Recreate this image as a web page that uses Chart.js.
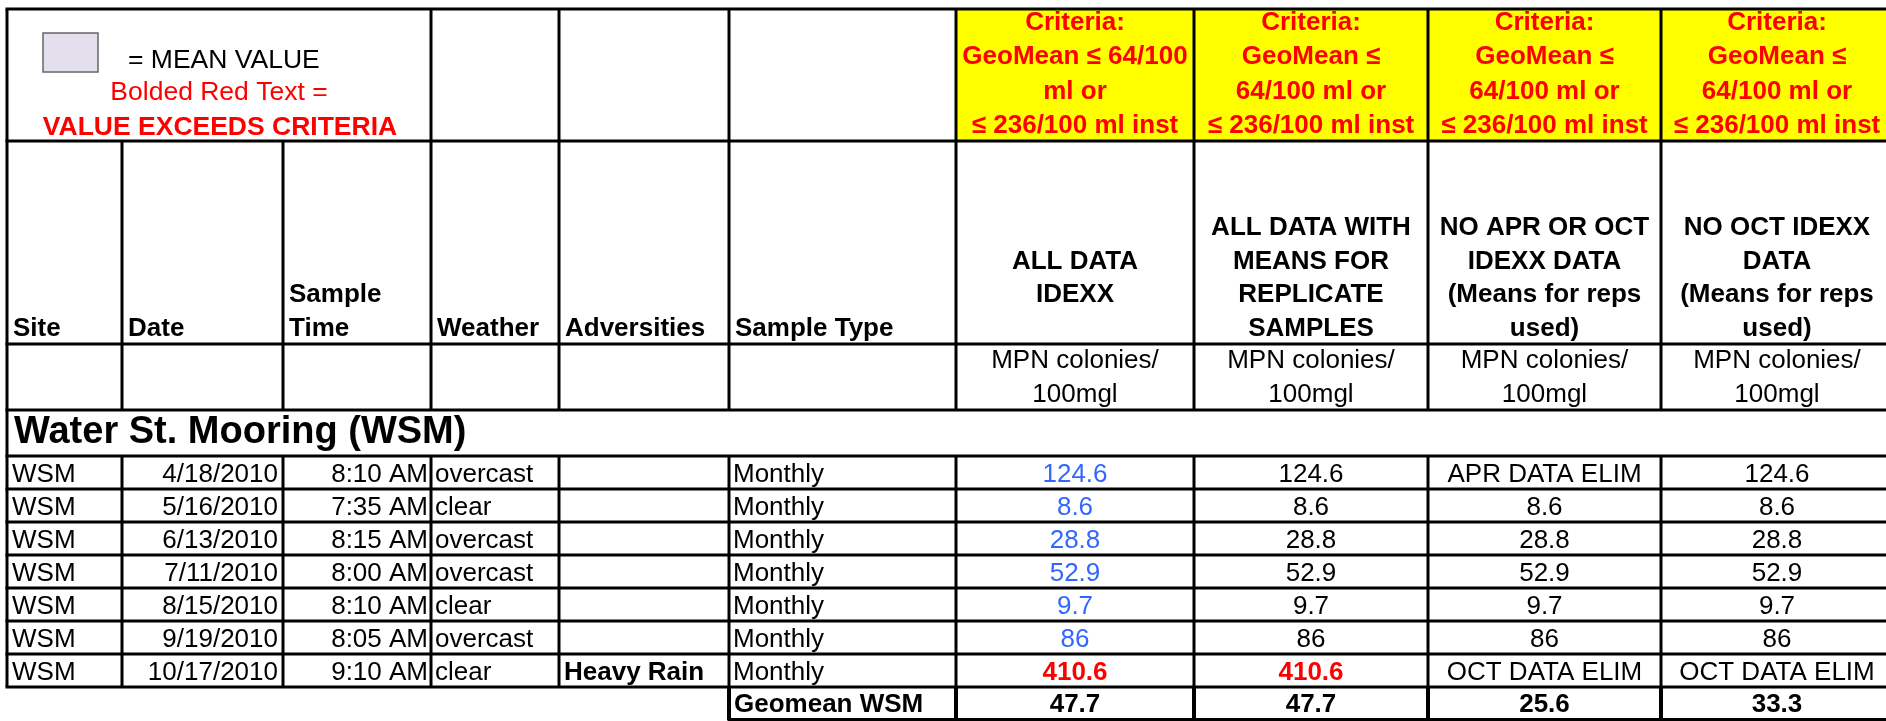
<!DOCTYPE html>
<html>
<head>
<meta charset="utf-8">
<script src="https://cdn.jsdelivr.net/npm/chart.js@4.4.1/dist/chart.umd.min.js"></script>
<style>
  html, body { margin: 0; padding: 0; background: #fff; overflow: hidden; }
  #wrap { width: 1886px; height: 721px; position: relative; }
</style>
</head>
<body>
<div id="wrap"><canvas id="tbl"></canvas></div>
<script>
// ---- table content ----
const sites = ['WSM', 'WSM', 'WSM', 'WSM', 'WSM', 'WSM', 'WSM'];
const dates = ['4/18/2010', '5/16/2010', '6/13/2010', '7/11/2010', '8/15/2010', '9/19/2010', '10/17/2010'];
const times = ['8:10 AM', '7:35 AM', '8:15 AM', '8:00 AM', '8:10 AM', '8:05 AM', '9:10 AM'];
const weather = ['overcast', 'clear', 'overcast', 'overcast', 'clear', 'overcast', 'clear'];
const adversities = ['', '', '', '', '', '', 'Heavy Rain'];
const sampleTypes = ['Monthly', 'Monthly', 'Monthly', 'Monthly', 'Monthly', 'Monthly', 'Monthly'];

const allDataIdexx = [124.6, 8.6, 28.8, 52.9, 9.7, 86, 410.6];
const withMeans = [124.6, 8.6, 28.8, 52.9, 9.7, 86, 410.6];
const noAprOct = ['APR DATA ELIM', 8.6, 28.8, 52.9, 9.7, 86, 'OCT DATA ELIM'];
const noOct = [124.6, 8.6, 28.8, 52.9, 9.7, 86, 'OCT DATA ELIM'];
const geomeans = [47.7, 47.7, 25.6, 33.3];
const instLimit = 236;

const infoHeads = [['Site'], ['Date'], ['Sample', 'Time'], ['Weather'], ['Adversities'], ['Sample Type']];
const metricHeads = [
  ['ALL DATA', 'IDEXX', ''],
  ['ALL DATA WITH', 'MEANS FOR', 'REPLICATE', 'SAMPLES'],
  ['NO APR OR OCT', 'IDEXX DATA', '(Means for reps', 'used)'],
  ['NO OCT IDEXX', 'DATA', '(Means for reps', 'used)']
];
const criteriaHeads = [
  ['Criteria:', 'GeoMean \u2264 64/100', 'ml or', '\u2264 236/100 ml inst'],
  ['Criteria:', 'GeoMean \u2264', '64/100 ml or', '\u2264 236/100 ml inst'],
  ['Criteria:', 'GeoMean \u2264', '64/100 ml or', '\u2264 236/100 ml inst'],
  ['Criteria:', 'GeoMean \u2264', '64/100 ml or', '\u2264 236/100 ml inst']
];
const unitLines = ['MPN colonies/', '100mgl'];
const legendLines = ['= MEAN VALUE', 'Bolded Red Text =', 'VALUE EXCEEDS CRITERIA'];
const sectionTitle = 'Water St. Mooring (WSM)';
const geomeanLabel = 'Geomean WSM';

// ---- sheet geometry (in scale units) ----
const W = 1886, H = 721;
const colEdges = [7, 122, 283, 431, 559, 729, 956, 1194, 1428, 1661, 1893];
const yTop = 9, yCrit = 141, yHead = 344, yUnits = 410, ySection = 456;
const rowH = 33;
const FONT = '"Liberation Sans", Arial, sans-serif';
const BLUE = '#3366ff', RED = '#ff0000', YELLOW = '#ffff00';

const tablePlugin = {
  id: 'sheet',
  afterDraw(chart) {
    const { ctx, scales: { x, y } } = chart;
    const px = v => x.getPixelForValue(v);
    const py = v => y.getPixelForValue(v);
    const nRows = dates.length;
    const rowBottom = i => ySection + rowH * (i + 1);
    const yEnd = rowBottom(nRows - 1);
    const right = colEdges[colEdges.length - 1];

    ctx.save();
    // yellow criteria cells
    ctx.fillStyle = YELLOW;
    ctx.fillRect(px(colEdges[6]), py(yTop), px(right) - px(colEdges[6]), py(yCrit) - py(yTop));

    const text = (s, tx, ty, opt) => {
      ctx.font = (opt.bold ? 'bold ' : '') + (opt.size || 26) + 'px ' + FONT;
      ctx.fillStyle = opt.color || '#000';
      ctx.textAlign = opt.align || 'left';
      ctx.textBaseline = 'alphabetic';
      ctx.fillText(s, px(tx), py(ty));
    };
    const mid = c => (colEdges[c] + colEdges[c + 1]) / 2;

    // legend box
    const lx0 = colEdges[0], lx1 = colEdges[3];
    ctx.fillStyle = '#e4dfec';
    ctx.strokeStyle = '#666';
    ctx.lineWidth = 1.5;
    ctx.fillRect(px(lx0 + 36), py(yTop + 24), px(lx0 + 91) - px(lx0 + 36), py(yTop + 63) - py(yTop + 24));
    ctx.strokeRect(px(lx0 + 36), py(yTop + 24), px(lx0 + 91) - px(lx0 + 36), py(yTop + 63) - py(yTop + 24));
    text(legendLines[0], lx0 + 121, yTop + 59, { size: 26.5 });
    text(legendLines[1], (lx0 + lx1) / 2, yTop + 91, { color: RED, align: 'center', size: 26.5 });
    text(legendLines[2], (lx0 + lx1) / 2 + 1, yTop + 126, { color: RED, bold: true, align: 'center', size: 26.5 });

    // criteria header
    criteriaHeads.forEach((lines, k) => {
      lines.forEach((s, i) => text(s, mid(6 + k), yTop + 21 + i * 34.3, { color: RED, bold: true, align: 'center' }));
    });

    // column headers (bottom aligned)
    infoHeads.forEach((lines, c) => {
      lines.forEach((s, i) => text(s, colEdges[c] + 6, yHead - 8 - (lines.length - 1 - i) * 33.6, { bold: true }));
    });
    metricHeads.forEach((lines, k) => {
      lines.forEach((s, i) => text(s, mid(6 + k), yHead - 8 - (lines.length - 1 - i) * 33.6, { bold: true, align: 'center' }));
    });

    // units
    for (let k = 0; k < 4; k++) {
      unitLines.forEach((s, i) => text(s, mid(6 + k), yUnits - 8 - (unitLines.length - 1 - i) * 34, { align: 'center' }));
    }

    // section title
    text(sectionTitle, colEdges[0] + 7, ySection - 13, { bold: true, size: 38 });

    // data rows
    const metricCols = [allDataIdexx, withMeans, noAprOct, noOct];
    for (let i = 0; i < nRows; i++) {
      const by = rowBottom(i) - 7;
      text(sites[i], colEdges[0] + 5, by, {});
      text(dates[i], colEdges[2] - 5, by, { align: 'right' });
      text(times[i], colEdges[3] - 3, by, { align: 'right' });
      text(weather[i], colEdges[3] + 4, by, {});
      text(adversities[i], colEdges[4] + 5, by, { bold: true });
      text(sampleTypes[i], colEdges[5] + 4, by, {});
      metricCols.forEach((vals, k) => {
        const v = vals[i];
        const over = typeof v === 'number' && v > instLimit;
        const color = over ? RED : (k === 0 ? BLUE : '#000');
        text(String(v), mid(6 + k), by, { color, bold: over, align: 'center' });
      });
    }

    // geomean row
    const gy = yEnd + rowH - 8;
    text(geomeanLabel, colEdges[5] + 5, gy, { bold: true });
    geomeans.forEach((g, k) => text(String(g), mid(6 + k), gy, { bold: true, align: 'center' }));

    // grid lines
    ctx.strokeStyle = '#000';
    const hLine = (yy, xa, xb, w) => {
      ctx.lineWidth = w || 3;
      ctx.beginPath(); ctx.moveTo(px(xa) - 1.5, py(yy)); ctx.lineTo(px(xb), py(yy)); ctx.stroke();
    };
    const vLine = (xx, ya, yb, w) => {
      ctx.lineWidth = w || 3;
      ctx.beginPath(); ctx.moveTo(px(xx), py(ya)); ctx.lineTo(px(xx), py(yb)); ctx.stroke();
    };
    [yTop, yCrit, yHead, yUnits, ySection].forEach(yy => hLine(yy, colEdges[0], right));
    for (let i = 0; i < nRows; i++) hLine(rowBottom(i), colEdges[0], right);
    hLine(yEnd + rowH, colEdges[5], right, 4);

    // verticals: criteria row has merged legend across first three columns
    colEdges.forEach((cx, c) => {
      if (c === 0 || c >= 3) vLine(cx, yTop, yCrit);
      vLine(cx, yCrit, yUnits);
      if (c === 0) vLine(cx, yUnits, ySection);
      vLine(cx, ySection, yEnd);
      if (c >= 5) vLine(cx, yEnd, yEnd + rowH, 4);
    });
    ctx.restore();
  }
};

new Chart(document.getElementById('tbl'), {
  type: 'scatter',
  data: { datasets: [] },
  options: {
    responsive: true,
    maintainAspectRatio: false,
    animation: false,
    layout: { padding: 0 },
    plugins: { legend: { display: false }, tooltip: { enabled: false } },
    scales: {
      x: { type: 'linear', min: 0, max: W, display: false },
      y: { type: 'linear', min: 0, max: H, reverse: true, display: false }
    }
  },
  plugins: [tablePlugin]
});
</script>
</body>
</html>
